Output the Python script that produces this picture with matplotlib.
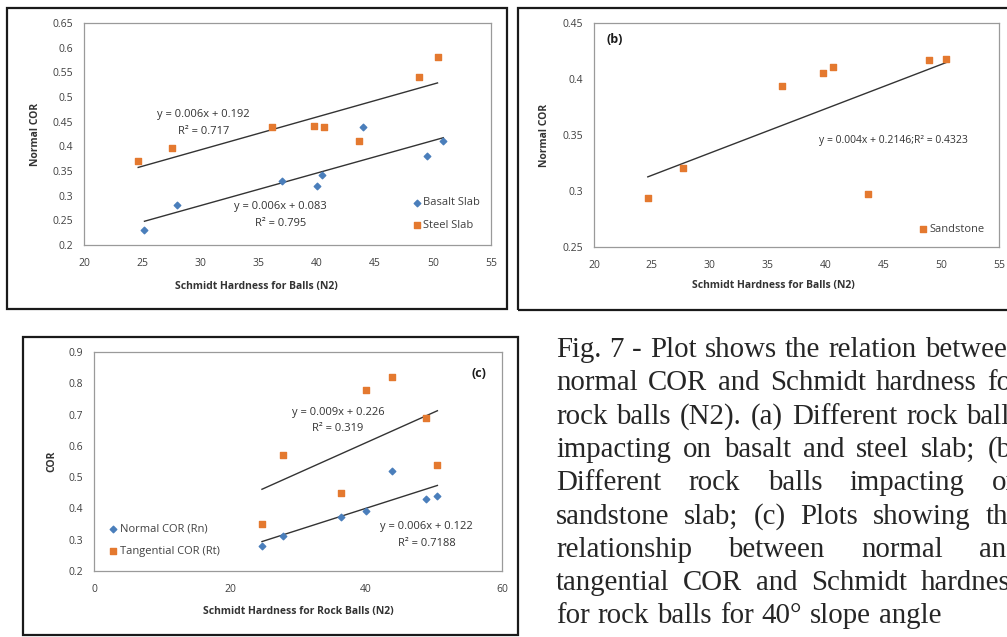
import numpy as np
import matplotlib
matplotlib.use("Agg")
import matplotlib.pyplot as plt
from matplotlib.patches import Rectangle

W, H = 1007, 637

# panel (a): normal COR on basalt and steel slabs
hard_a_basalt = [25.2, 28.0, 37.0, 40.0, 40.5, 44.0, 49.5, 50.9]
cor_a_basalt = [0.231, 0.281, 0.329, 0.320, 0.341, 0.440, 0.380, 0.411]
hard_a_steel = [24.66, 27.6, 36.2, 39.75, 40.67, 43.67, 48.85, 50.4]
cor_a_steel = [0.370, 0.397, 0.439, 0.442, 0.440, 0.410, 0.541, 0.581]

# panel (b): sandstone slab
hard_b = [24.65, 27.65, 36.27, 39.79, 40.68, 43.68, 48.97, 50.42]
cor_b = [0.2935, 0.3203, 0.3938, 0.4056, 0.4111, 0.2970, 0.4170, 0.4176]

# panel (c): normal and tangential COR
hard_c = [24.7, 27.8, 36.3, 40.0, 43.8, 48.8, 50.5]
cor_c_normal = [0.280, 0.312, 0.372, 0.393, 0.519, 0.430, 0.441]
cor_c_tang = [0.349, 0.570, 0.448, 0.778, 0.819, 0.689, 0.539]

caption_lines = [
    "Fig. 7 - Plot shows the relation between",
    "normal COR and Schmidt hardness for",
    "rock balls (N2). (a) Different rock balls",
    "impacting on basalt and steel slab; (b)",
    "Different rock balls impacting on",
    "sandstone slab; (c) Plots showing the",
    "relationship between normal and",
    "tangential COR and Schmidt hardness",
    "for rock balls for 40\u00b0 slope angle",
]

BLUE = "#4a7ebb"
ORANGE = "#e4792f"
FONT = "Open Sans"
TICK_COL = "#404040"

plt.rcParams['font.family'] = [FONT, 'DejaVu Sans']

fig = plt.figure(figsize=(W / 100, H / 100), dpi=100)
fig.patch.set_facecolor("white")


def px_rect(l, t, r, b):
    return [l / W, 1 - b / H, (r - l) / W, (b - t) / H]


def frame(l, t, r, b):
    fig.patches.append(Rectangle((l / W, 1 - b / H), (r - l) / W, (b - t) / H,
                                 transform=fig.transFigure, fill=False,
                                 edgecolor="#1a1a1a", linewidth=1.6))


def style(ax):
    for s in ax.spines.values():
        s.set_color("#9a9a9a")
        s.set_linewidth(0.9)
    ax.tick_params(length=0, labelsize=7.5, labelcolor=TICK_COL)
    ax.tick_params(axis="x", pad=9)
    ax.tick_params(axis="y", pad=8)


def trend(ax, x, y):
    k, c = np.polyfit(x, y, 1)
    xs = np.array([min(x), max(x)])
    ax.plot(xs, k * xs + c, color="#333333", linewidth=1.0, zorder=2)


frame(7, 8, 507, 309)
frame(518, 8, 1012, 310)
frame(23, 337, 518, 635)

# ---- (a)
ax = fig.add_axes(px_rect(84, 23, 491, 245))
style(ax)
ax.scatter(hard_a_basalt, cor_a_basalt, marker="D", s=11, color=BLUE, label="Basalt Slab", zorder=3)
ax.scatter(hard_a_steel, cor_a_steel, marker="s", s=24, color=ORANGE, label="Steel Slab", zorder=3)
trend(ax, hard_a_steel, cor_a_steel)
trend(ax, hard_a_basalt, cor_a_basalt)
ax.set_xlim(20, 55)
ax.set_ylim(0.2, 0.65)
ax.set_xticks(np.arange(20, 56, 5))
ax.set_yticks(np.arange(0.2, 0.651, 0.05))
ax.set_yticklabels(["0.2", "0.25", "0.3", "0.35", "0.4", "0.45", "0.5", "0.55", "0.6", "0.65"])
ax.text(30.3, 0.464, "y = 0.006x + 0.192", fontsize=8, ha="center", va="center", color="#333333")
ax.text(30.3, 0.430, "R\u00b2 = 0.717", fontsize=8, ha="center", va="center", color="#333333")
ax.text(36.9, 0.278, "y = 0.006x + 0.083", fontsize=8, ha="center", va="center", color="#333333")
ax.text(36.9, 0.244, "R\u00b2 = 0.795", fontsize=8, ha="center", va="center", color="#333333")
ax.set_xlabel("Schmidt Hardness for Balls (N2)", fontsize=7.5, fontweight="bold", color="#333333", va="center")
ax.xaxis.set_label_coords(0.423, -0.185)
ax.set_ylabel("Normal COR", fontsize=7.5, fontweight="bold", color="#333333", va="center")
ax.yaxis.set_label_coords(-0.120, 0.5)
ax.legend(loc="lower left", bbox_to_anchor=(0.79, 0.03), frameon=False, fontsize=8,
          handlelength=0.6, handletextpad=0.3, labelspacing=1.0, borderpad=0.2,
          labelcolor="#404040")

# ---- (b)
ax = fig.add_axes(px_rect(594, 23, 999, 247))
style(ax)
ax.scatter(hard_b, cor_b, marker="s", s=24, color=ORANGE, label="Sandstone", zorder=3)
trend(ax, hard_b, cor_b)
ax.set_xlim(20, 55)
ax.set_ylim(0.25, 0.45)
ax.set_xticks(np.arange(20, 56, 5))
ax.set_yticks([0.25, 0.3, 0.35, 0.4, 0.45])
ax.set_yticklabels(["0.25", "0.3", "0.35", "0.4", "0.45"])
ax.text(45.9, 0.3455, "y = 0.004x + 0.2146;R\u00b2 = 0.4323", fontsize=7.5, ha="center", va="center", color="#333333")
ax.text(21.8, 0.435, "(b)", fontsize=9, fontweight="bold", ha="center", va="center", color="#1a1a1a")
ax.set_xlabel("Schmidt Hardness for Balls (N2)", fontsize=7.5, fontweight="bold", color="#333333", va="center")
ax.xaxis.set_label_coords(0.444, -0.170)
ax.set_ylabel("Normal COR", fontsize=7.5, fontweight="bold", color="#333333", va="center")
ax.yaxis.set_label_coords(-0.121, 0.5)
ax.legend(loc="lower left", bbox_to_anchor=(0.785, 0.02), frameon=False, fontsize=8,
          handlelength=0.6, handletextpad=0.3, borderpad=0.2, labelcolor="#404040")

# ---- (c)
ax = fig.add_axes(px_rect(94, 352, 502, 571))
style(ax)
ax.scatter(hard_c, cor_c_normal, marker="D", s=11, color=BLUE, label="Normal COR (Rn)", zorder=3)
ax.scatter(hard_c, cor_c_tang, marker="s", s=24, color=ORANGE, label="Tangential COR (Rt)", zorder=3)
trend(ax, hard_c, cor_c_tang)
trend(ax, hard_c, cor_c_normal)
ax.set_xlim(0, 60)
ax.set_ylim(0.2, 0.9)
ax.set_xticks([0, 20, 40, 60])
ax.set_yticks(np.arange(0.2, 0.91, 0.1))
ax.set_yticklabels(["0.2", "0.3", "0.4", "0.5", "0.6", "0.7", "0.8", "0.9"])
ax.text(35.9, 0.707, "y = 0.009x + 0.226", fontsize=8, ha="center", va="center", color="#333333")
ax.text(35.9, 0.656, "R\u00b2 = 0.319", fontsize=8, ha="center", va="center", color="#333333")
ax.text(48.9, 0.342, "y = 0.006x + 0.122", fontsize=8, ha="center", va="center", color="#333333")
ax.text(48.9, 0.288, "R\u00b2 = 0.7188", fontsize=8, ha="center", va="center", color="#333333")
ax.text(56.6, 0.83, "(c)", fontsize=9, fontweight="bold", ha="center", va="center", color="#1a1a1a")
ax.set_xlabel("Schmidt Hardness for Rock Balls (N2)", fontsize=7.5, fontweight="bold", color="#333333", va="center")
ax.xaxis.set_label_coords(0.5, -0.187)
ax.set_ylabel("COR", fontsize=7.5, fontweight="bold", color="#333333", va="center")
ax.yaxis.set_label_coords(-0.103, 0.5)
ax.legend(loc="lower left", bbox_to_anchor=(0.02, 0.03), frameon=False, fontsize=8,
          handlelength=0.6, handletextpad=0.3, labelspacing=1.0, borderpad=0.2,
          labelcolor="#404040")

# ---- caption, justified like the printed page
fig.canvas.draw()
rend = fig.canvas.get_renderer()
cap_kw = dict(fontsize=20.8, family="Liberation Serif", color="#262626", va="baseline")
x0, x1 = 556, 1021
for i, line in enumerate(caption_lines):
    yb = 1 - (357 + i * 33.3) / H
    words = line.split()
    widths = []
    for w in words:
        t = fig.text(0, 0, w, **cap_kw)
        widths.append(t.get_window_extent(rend).width)
        t.remove()
    if i == len(caption_lines) - 1:
        gap = 8.0
    else:
        gap = max(4.0, (x1 - x0 - sum(widths)) / (len(words) - 1))
    x = x0
    for w, wd in zip(words, widths):
        fig.text(x / W, yb, w, **cap_kw)
        x += wd + gap

fig.savefig("out.png", dpi=100)
